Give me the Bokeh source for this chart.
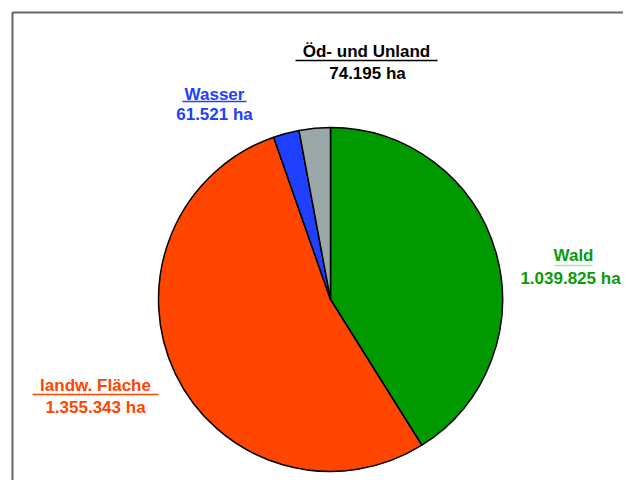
import numpy as np
from bokeh.plotting import figure
from bokeh.models import Range1d
from bokeh.core.properties import value
from bokeh.embed import file_html
from bokeh.resources import INLINE

# Data
categories = ["Wald", "landw. Fläche", "Wasser", "Öd- und Unland"]
values_ha = [1039925, 1355343, 61521, 74195]
value_labels = ["1.039.825 ha", "1.355.343 ha", "61.521 ha", "74.195 ha"]
colors = ["#009a00", "#ff4500", "#2040ff", "#9aa8a8"]
text_colors = ["#0a9a0a", "#ff4500", "#2040ff", "#000000"]

W, H = 623, 480
p = figure(width=W, height=H, output_backend="svg", toolbar_location=None,
           x_range=Range1d(0, W), y_range=Range1d(0, H), min_border=0)
p.axis.visible = False
p.grid.visible = False
p.outline_line_color = None

def py(y):  # screen y -> data y
    return H - y

# frame
p.line([12, 12, W], [0, py(12), py(12)], line_color="#666666", line_width=2)

# pie
cx, cy, r = 330, py(299), 172
vals = np.array(values_ha, dtype=float)
frac = vals / vals.sum()
cum = np.concatenate([[0], np.cumsum(frac)])
starts = np.pi / 2 - cum[1:] * 2 * np.pi
ends = np.pi / 2 - cum[:-1] * 2 * np.pi
p.wedge(x=cx, y=cy, radius=r, start_angle=starts, end_angle=ends,
        fill_color=colors, line_color="black", line_width=1.5)

# labels: (title x, value x, title y, underline y, value y, underline half width)
label_pos = [(573, 570, 255, 265, 278, 19), (95, 95, 385, 394, 407, 63),
             (214, 214, 94, 101, 114, 32), (366, 367, 51, 60, 73, 71)]
font = value("Liberation Sans")
for i, (tx, vx, ty, uy, vy, hw) in enumerate(label_pos):
    p.text(x=[tx], y=[py(ty)], text=[categories[i]], text_align="center",
           text_baseline="middle", text_font=font,
           text_font_style="bold", text_font_size="17px", text_color=text_colors[i])
    p.line([tx - hw, tx + hw], [py(uy), py(uy)], line_color=text_colors[i],
           line_width=1.5, line_alpha=0.3 if i == 0 else 1.0)
    p.text(x=[vx], y=[py(vy)], text=[value_labels[i]], text_align="center",
           text_baseline="middle", text_font=font,
           text_font_style="bold", text_font_size="17px", text_color=text_colors[i])

open("out.html", "w").write(file_html(p, INLINE))
